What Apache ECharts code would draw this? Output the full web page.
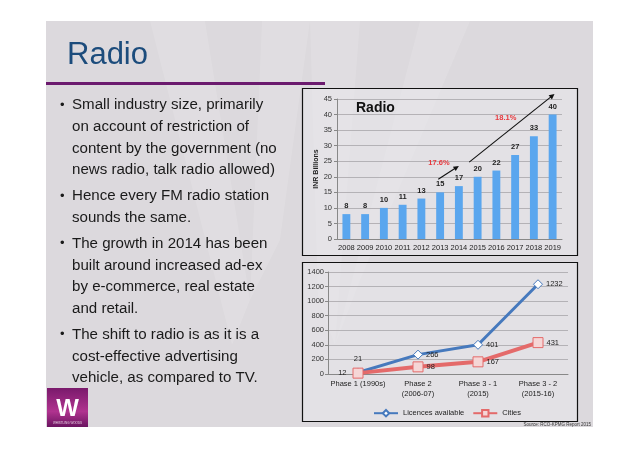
<!DOCTYPE html>
<html>
<head>
<meta charset="utf-8">
<script src="https://cdn.jsdelivr.net/npm/echarts@6/dist/echarts.min.js"></script>
<style>
html, body { margin: 0; padding: 0; background: #fff; }
#container { width: 638px; height: 451px; }
</style>
</head>
<body>
<div id="container"></div>
<script>
var dom = document.getElementById("container");
var myChart = echarts.init(dom);

// radio revenue, INR billions
var years = ['2008', '2009', '2010', '2011', '2012', '2013', '2014', '2015', '2016', '2017', '2018', '2019'];
var revenue = [8, 8, 10, 11, 13, 15, 17, 20, 22, 27, 33, 40];

// FM licensing phases
var phases = ['Phase 1 (1990s)', 'Phase 2\n(2006-07)', 'Phase 3 - 1\n(2015)', 'Phase 3 - 2\n(2015-16)'];
var licences = [21, 266, 401, 1232];
var cities = [12, 98, 167, 431];

// growth arrows: [category index, value]
var growth = [
    { text: '17.6%', from: [4.9, 19.2], to: [6.0, 23.5], at: [4.94, 24.4] },
    { text: '18.1%', from: [6.55, 24.7], to: [11.1, 46.6], at: [8.5, 38.9] }
];

var bullets = [
    ['Small industry size, primarily', 'on account of restriction of', 'content by the government (no', 'news radio, talk radio allowed)'],
    ['Hence every FM radio station', 'sounds the same.'],
    ['The growth in 2014 has been', 'built around increased ad-ex', 'by e-commerce, real estate', 'and retail.'],
    ['The shift to radio is as it is a', 'cost-effective advertising', 'vehicle, as compared to TV.']
];

var font = '"Liberation Sans", Arial, Helvetica, sans-serif';

option = {
    animation: false,
    textStyle: { fontFamily: font },
    grid: [
        { left: 337, right: 76, top: 99, bottom: 212 },
        { left: 328, right: 70, top: 272, bottom: 77 }
    ],
    legend: {
        left: 368,
        top: 404,
        itemWidth: 24,
        itemHeight: 8,
        itemGap: 8,
        textStyle: { fontFamily: font, fontSize: 7.5, color: '#222' },
        data: ['Licences available', 'Cities']
    },
    xAxis: [{
        gridIndex: 0,
        type: 'category',
        data: years,
        axisLine: { lineStyle: { color: '#888' } },
        axisTick: { lineStyle: { color: '#888' }, length: 3 },
        axisLabel: { interval: 0, margin: 5, fontFamily: font, fontSize: 7.5, color: '#222' }
    }, {
        gridIndex: 1,
        type: 'category',
        data: phases,
        axisLine: { lineStyle: { color: '#888' } },
        axisTick: { lineStyle: { color: '#888' }, length: 3 },
        axisLabel: { interval: 0, margin: 5, lineHeight: 10, fontFamily: font, fontSize: 7.5, color: '#222' }
    }],
    yAxis: [{
        gridIndex: 0,
        type: 'value',
        min: 0,
        max: 45,
        interval: 5,
        name: 'INR Billions',
        nameLocation: 'middle',
        nameGap: 17,
        nameTextStyle: { fontFamily: font, fontSize: 7, fontWeight: 'bold', color: '#222' },
        axisLine: { show: true, lineStyle: { color: '#888' } },
        axisTick: { show: true, length: 3, lineStyle: { color: '#888' } },
        axisLabel: { margin: 5, fontFamily: font, fontSize: 7.5, color: '#333' },
        splitLine: { lineStyle: { color: '#a8a6aa', width: 0.8 } }
    }, {
        gridIndex: 1,
        type: 'value',
        min: 0,
        max: 1400,
        interval: 200,
        axisLine: { show: true, lineStyle: { color: '#888' } },
        axisTick: { show: true, length: 3, lineStyle: { color: '#888' } },
        axisLabel: { margin: 4, fontFamily: font, fontSize: 7.5, color: '#333', formatter: function (v) { return String(v); } },
        splitLine: { lineStyle: { color: '#a8a6aa', width: 0.8 } }
    }],
    series: [{
        name: 'Revenue',
        type: 'bar',
        xAxisIndex: 0,
        yAxisIndex: 0,
        barWidth: '42%',
        itemStyle: { color: '#5aa6ee' },
        label: {
            show: true,
            position: 'top',
            distance: 4,
            fontFamily: font,
            fontSize: 7.5,
            fontWeight: 'bold',
            color: '#222'
        },
        data: revenue
    }, {
        name: 'Licences available',
        type: 'line',
        xAxisIndex: 1,
        yAxisIndex: 1,
        symbol: 'diamond',
        symbolSize: 9,
        lineStyle: { color: '#4679bd', width: 3 },
        itemStyle: { color: '#fff', borderColor: '#4679bd', borderWidth: 1 },
        z: 3,
        data: licences.map(function (v, i) {
            return {
                value: v,
                label: {
                    show: true,
                    position: i === 0 ? 'top' : 'right',
                    distance: i === 0 ? 5 : 3,
                    fontFamily: font,
                    fontSize: 7.5,
                    color: '#222'
                }
            };
        })
    }, {
        name: 'Cities',
        type: 'line',
        xAxisIndex: 1,
        yAxisIndex: 1,
        symbol: 'rect',
        symbolSize: 10,
        lineStyle: { color: '#e46a6a', width: 4 },
        itemStyle: { color: '#f5d6d6', borderColor: '#e46a6a', borderWidth: 1 },
        z: 4,
        data: cities.map(function (v, i) {
            return {
                value: v,
                label: {
                    show: true,
                    position: i === 0 ? 'left' : 'right',
                    distance: i === 0 ? 6 : 3,
                    fontFamily: font,
                    fontSize: 7.5,
                    color: '#222'
                }
            };
        })
    }]
};

myChart.setOption(option, true);

// pixel position of a (fractional) category index / value on grid 0
function barPoint(p) {
    var a = myChart.convertToPixel({ gridIndex: 0 }, [0, p[1]]);
    var b = myChart.convertToPixel({ gridIndex: 0 }, [1, p[1]]);
    return [a[0] + (b[0] - a[0]) * p[0], a[1]];
}

var graphics = [];

// slide
graphics.push({ type: 'rect', z: -20, shape: { x: 46, y: 21, width: 547, height: 406 }, style: { fill: '#dcd9dd' } });
// faint watermark W
[
    [[150, 21], [205, 21], [250, 300], [232, 345]],
    [[262, 21], [310, 21], [280, 240], [250, 300]],
    [[310, 21], [360, 21], [335, 345], [318, 300]],
    [[420, 21], [470, 21], [360, 280], [335, 345]]
].forEach(function (pts) {
    graphics.push({ type: 'polygon', z: -19, shape: { points: pts }, style: { fill: 'rgba(255,255,255,0.12)' } });
});
// title and rule
graphics.push({ type: 'text', z: 10, style: { x: 67, y: 55, text: 'Radio', fill: '#1c4c7c', fontFamily: font, fontSize: 31, textVerticalAlign: 'middle' } });
graphics.push({ type: 'rect', z: 10, shape: { x: 46, y: 82, width: 279, height: 3 }, style: { fill: '#6b1a6e' } });

// bullets
var y = 105;
bullets.forEach(function (lines) {
    lines.forEach(function (line, j) {
        if (j === 0) {
            graphics.push({ type: 'text', z: 10, style: { x: 60, y: y, text: '\u2022', fill: '#1a1a1a', fontFamily: font, fontSize: 13, textVerticalAlign: 'middle' } });
        }
        graphics.push({ type: 'text', z: 10, style: { x: 72, y: y, text: line, fill: '#1a1a1a', fontFamily: font, fontSize: 15.1, textVerticalAlign: 'middle' } });
        y += 21.7;
    });
    y += 4.3;
});

// logo
graphics.push({ type: 'rect', z: 10, shape: { x: 47, y: 388, width: 41, height: 39 },
    style: { fill: new echarts.graphic.LinearGradient(0, 0, 0, 1, [{ offset: 0, color: '#7a1a6c' }, { offset: 0.6, color: '#b0338f' }, { offset: 1, color: '#6a1460' }]) } });
graphics.push({ type: 'text', z: 11, style: { x: 67.5, y: 409, text: 'W', fill: '#fff', fontFamily: font, fontSize: 24, fontWeight: 'bold', textAlign: 'center', textVerticalAlign: 'middle' } });
graphics.push({ type: 'text', z: 11, style: { x: 67.5, y: 423, text: 'WHISTLING WOODS', fill: 'rgba(255,255,255,0.8)', fontFamily: font, fontSize: 3, textAlign: 'center', textVerticalAlign: 'middle' } });

// chart boxes
graphics.push({ type: 'rect', z: -5, shape: { x: 302.5, y: 88.5, width: 275, height: 167 }, style: { fill: 'rgba(236,234,239,0.45)', stroke: '#111', lineWidth: 1.2 } });
graphics.push({ type: 'rect', z: -5, shape: { x: 302.5, y: 262.5, width: 275, height: 159 }, style: { fill: 'rgba(236,234,239,0.45)', stroke: '#111', lineWidth: 1.2 } });
graphics.push({ type: 'text', z: 10, style: { x: 356, y: 108, text: 'Radio', fill: '#111', fontFamily: font, fontSize: 14, fontWeight: 'bold', textVerticalAlign: 'middle' } });

// source
graphics.push({ type: 'text', z: 10, style: { x: 591, y: 425, text: 'Source: RCO-KPMG Report 2015', fill: '#333', fontFamily: font, fontSize: 4.5, textAlign: 'right', textVerticalAlign: 'middle' } });

// growth arrows
growth.forEach(function (g) {
    var a = barPoint(g.from), b = barPoint(g.to), t = barPoint(g.at);
    var ang = Math.atan2(b[1] - a[1], b[0] - a[0]);
    var hl = 6, hw = 0.45;
    var p1 = [b[0] - hl * Math.cos(ang - hw), b[1] - hl * Math.sin(ang - hw)];
    var p2 = [b[0] - hl * Math.cos(ang + hw), b[1] - hl * Math.sin(ang + hw)];
    graphics.push({ type: 'line', z: 20, shape: { x1: a[0], y1: a[1], x2: b[0] - 3 * Math.cos(ang), y2: b[1] - 3 * Math.sin(ang) }, style: { stroke: '#111', lineWidth: 1.1 } });
    graphics.push({ type: 'polygon', z: 20, shape: { points: [b, p1, p2] }, style: { fill: '#111' } });
    graphics.push({ type: 'text', z: 20, style: { x: t[0], y: t[1], text: g.text, fill: '#e8383d', fontFamily: font, fontSize: 7.5, fontWeight: 'bold', textAlign: 'center', textVerticalAlign: 'middle' } });
});

myChart.setOption({ graphic: graphics });
</script>
</body>
</html>
